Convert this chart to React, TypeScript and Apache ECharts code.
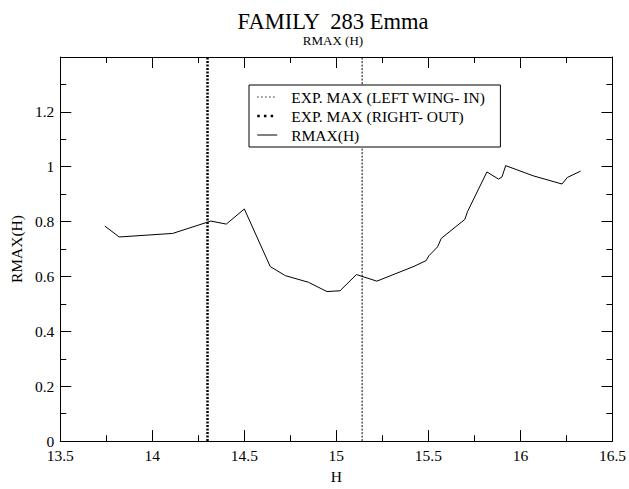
import React, { useEffect, useRef } from 'react';
import * as echarts from 'echarts';

const H_VALUES = [13.742, 13.82, 14.111, 14.318, 14.402, 14.5, 14.641, 14.723, 14.848, 14.949, 15.02, 15.109, 15.22, 15.422, 15.488, 15.502, 15.55, 15.57, 15.698, 15.713, 15.818, 15.881, 15.9, 15.92, 16.069, 16.226, 16.255, 16.327];
const RMAX_VALUES = [0.784, 0.744, 0.757, 0.802, 0.791, 0.846, 0.636, 0.603, 0.579, 0.545, 0.548, 0.607, 0.583, 0.637, 0.658, 0.675, 0.708, 0.739, 0.808, 0.837, 0.981, 0.955, 0.963, 1.004, 0.967, 0.937, 0.961, 0.984];
const LEFT_WING_H = 15.14;
const RIGHT_OUT_H = 14.3;
const X_MIN = 13.5;
const X_MAX = 16.5;
const X_STEP = 0.5;
const Y_MIN = 0;
const Y_MAX = 1.4;
const Y_STEP = 0.2;
const SERIES_NAMES = ['EXP. MAX (LEFT WING- IN)', 'EXP. MAX (RIGHT- OUT)', 'RMAX(H)'];
const TITLE = 'FAMILY  283 Emma';
const SUBTITLE = 'RMAX (H)';
const X_NAME = 'H';
const Y_NAME = 'RMAX(H)';

const FONT = "'Liberation Serif', 'Times New Roman', Times, serif";

export default function App() {
  const ref = useRef<HTMLDivElement>(null);
  useEffect(() => {
    const chart = echarts.init(ref.current!, null, { renderer: 'svg' });
    const lineCol = '#000';
    const tickCommon = {
      axisLine: { show: true, onZero: false, lineStyle: { color: lineCol, width: 1 } },
      axisTick: { show: true, inside: true, length: 11, lineStyle: { color: lineCol, width: 1 } },
      minorTick: { show: true, splitNumber: 2, length: 6, lineStyle: { color: lineCol, width: 1 } },
      splitLine: { show: false },
      minorSplitLine: { show: false },
    };
    const labelStyle = { color: '#000', fontFamily: FONT, fontSize: 15.5 };
    const hidden = { opacity: 0 };
    chart.setOption({
      animation: false,
      backgroundColor: '#fff',
      graphic: [
        {
          type: 'text',
          x: 333,
          y: 10,
          style: { text: TITLE, fill: '#000', fontFamily: FONT, fontSize: 22.5, textAlign: 'center', textVerticalAlign: 'top' },
        },
        {
          type: 'text',
          x: 333,
          y: 34,
          style: { text: SUBTITLE, fill: '#000', fontFamily: FONT, fontSize: 13, textAlign: 'center', textVerticalAlign: 'top' },
        },
      ],
      grid: { left: 53, right: 16, top: 57, bottom: 40, containLabel: false },
      legend: {
        orient: 'vertical',
        left: 249,
        top: 85,
        padding: [4, 15, 4, 7],
        itemWidth: 20,
        itemHeight: 14,
        itemGap: 3,
        borderColor: '#000',
        borderWidth: 1,
        backgroundColor: '#fff',
        textStyle: { color: '#000', fontFamily: FONT, fontSize: 15.5, padding: [0, 0, 0, 9] },
        data: [
          { name: SERIES_NAMES[0], itemStyle: hidden, lineStyle: { type: [1.3, 2.7], width: 1, color: '#000' } },
          { name: SERIES_NAMES[1], itemStyle: hidden, lineStyle: { type: [2.5, 4.2], width: 2.5, color: '#000' } },
          { name: SERIES_NAMES[2], itemStyle: hidden, lineStyle: { type: 'solid', width: 1, color: '#000' } },
        ],
      },
      xAxis: [
        {
          type: 'value',
          position: 'bottom',
          min: X_MIN,
          max: X_MAX,
          interval: X_STEP,
          ...tickCommon,
          axisLabel: { ...labelStyle, margin: 6 },
          name: X_NAME,
          nameLocation: 'middle',
          nameGap: 23,
          nameTextStyle: { ...labelStyle },
        },
        {
          type: 'value',
          position: 'top',
          min: X_MIN,
          max: X_MAX,
          interval: X_STEP,
          ...tickCommon,
          axisLabel: { show: false },
        },
      ],
      yAxis: [
        {
          type: 'value',
          position: 'left',
          min: Y_MIN,
          max: Y_MAX,
          interval: Y_STEP,
          ...tickCommon,
          axisLabel: {
            ...labelStyle,
            margin: 6,
            formatter: (v: number) => (Math.abs(v - Y_MAX) < 1e-9 ? '' : String(Math.round(v * 10) / 10)),
          },
          name: Y_NAME,
          nameLocation: 'middle',
          nameGap: 35,
          nameTextStyle: { ...labelStyle },
        },
        {
          type: 'value',
          position: 'right',
          min: Y_MIN,
          max: Y_MAX,
          interval: Y_STEP,
          ...tickCommon,
          axisLabel: { show: false },
        },
      ],
      series: [
        {
          name: SERIES_NAMES[0],
          type: 'line',
          symbol: 'none',
          data: [[LEFT_WING_H, Y_MIN], [LEFT_WING_H, Y_MAX]],
          lineStyle: { color: '#000', width: 1, type: [2, 1.5] },
          itemStyle: { color: '#000' },
          z: 1,
        },
        {
          name: SERIES_NAMES[1],
          type: 'line',
          symbol: 'none',
          data: [[RIGHT_OUT_H, Y_MIN], [RIGHT_OUT_H, Y_MAX]],
          lineStyle: { color: '#000', width: 2.5, type: [2.2, 1.3] },
          itemStyle: { color: '#000' },
          z: 1,
        },
        {
          name: SERIES_NAMES[2],
          type: 'line',
          symbol: 'none',
          data: H_VALUES.map((h, i) => [h, RMAX_VALUES[i]]),
          lineStyle: { color: '#000', width: 1 },
          itemStyle: { color: '#000' },
          z: 2,
        },
      ],
    });
    return () => chart.dispose();
  }, []);
  return (
    <div
      ref={ref}
      style={{ position: 'fixed', left: 0, top: 0, width: 629, height: 489, background: '#fff' }}
    />
  );
}
